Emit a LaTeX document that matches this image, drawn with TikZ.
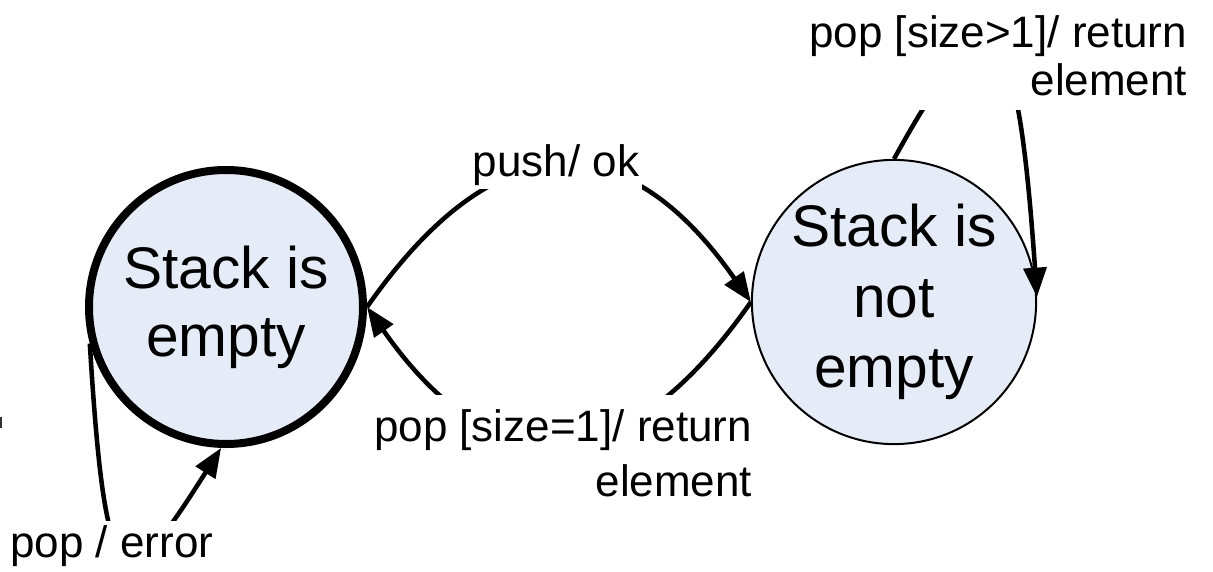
\documentclass[tikz,border=0pt]{standalone}
\usepackage{fontspec}
\setmainfont{Liberation Sans}
\usetikzlibrary{arrows.meta}

\definecolor{statefill}{RGB}{230,236,247}

\begin{document}
\begin{tikzpicture}[x=0.75pt,y=-0.75pt,
  state/.style={circle, draw=black, fill=statefill, align=center,
    inner sep=0pt, font=\fontsize{44}{51}\selectfont},
  conn/.style={line width=3.4pt, line cap=butt,
    -{Triangle[length=22pt,width=17pt]}},
  lbl/.style={fill=white, inner sep=2pt, align=right,
    font=\fontsize{33}{41}\selectfont}]

\useasboundingbox (0,0) rectangle (1213,571);

% states
\node[state, line width=6pt, minimum size=205.5pt] (empty) at (226,307) {Stack is\\empty};
\node[state, line width=1.5pt, minimum size=210pt,
      font=\fontsize{44}{53}\selectfont] (full) at (894,302) {Stack is\\not\\empty};

% transitions
\draw[conn] (empty.east) to[out=55,in=125,looseness=1.48] (full.west);
\draw[conn] (full.west) to[out=235,in=305,looseness=1.48] (empty.east);
\draw[conn] (full.90) .. controls +(61:150pt) and +(94:225pt) .. (full.2);
\draw[conn] (empty.195) .. controls +(-86.5:199pt) and +(237.7:137pt) .. (empty.268);

% transition labels
\node[lbl, anchor=south, inner sep=2pt] (lpush) at (556,189) {push/ ok};
\node[lbl, anchor=north east, inner xsep=2pt, inner ysep=11pt,
      font=\fontsize{33}{41}\selectfont] (lret) at (755,395)
      {pop [size=1]/ return\\element};
\node[lbl, anchor=south east, inner xsep=2pt, inner ysep=10pt,
      font=\fontsize{33}{36}\selectfont] (lself) at (1190,110)
      {pop [size>1]/ return\\element};
\node[lbl, anchor=base west, inner sep=3pt] (lerr) at (6,557) {pop / error};

% stray mark at the left edge
\draw[line width=1.5pt, black!80] (0.8,417) -- (0.8,428);
\end{tikzpicture}
\end{document}
